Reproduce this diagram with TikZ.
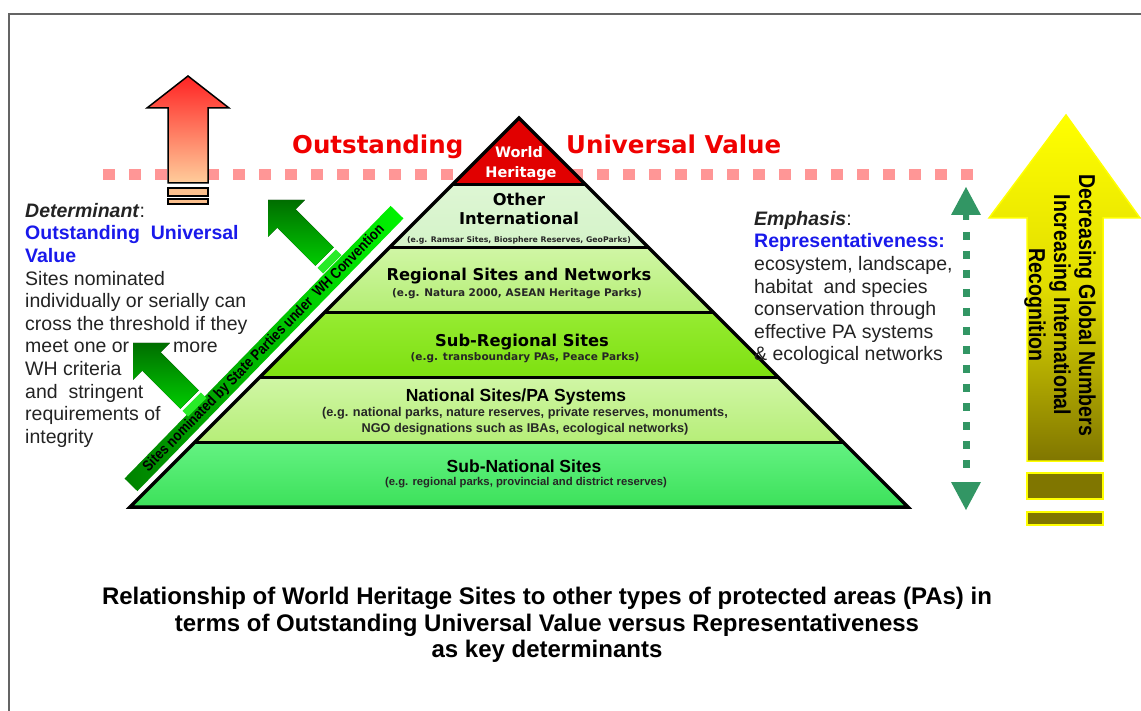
\documentclass[tikz,border=0pt]{standalone}
\usepackage{fontspec}
\setmainfont{Liberation Sans}
\newfontfamily\verdfont{DejaVu Sans}
\newfontfamily\slimfont[FakeStretch=0.85]{Liberation Sans}
\definecolor{framegray}{RGB}{100,100,100}
\definecolor{threshpink}{RGB}{255,150,150}
\definecolor{ouvred}{RGB}{240,0,0}
\definecolor{ouvblue}{RGB}{25,25,235}
\definecolor{bodytext}{RGB}{35,35,35}
\definecolor{whred}{RGB}{225,0,0}
\definecolor{othtop}{RGB}{222,246,212}
\definecolor{othbot}{RGB}{212,243,200}
\definecolor{regtop}{RGB}{208,246,165}
\definecolor{regbot}{RGB}{180,238,115}
\definecolor{srtop}{RGB}{150,235,50}
\definecolor{srbot}{RGB}{125,224,15}
\definecolor{nattop}{RGB}{208,246,165}
\definecolor{natbot}{RGB}{182,238,120}
\definecolor{sntop}{RGB}{100,242,130}
\definecolor{snbot}{RGB}{60,225,90}
\definecolor{uptop}{RGB}{255,35,35}
\definecolor{upbot}{RGB}{255,205,155}
\definecolor{upbar}{RGB}{250,190,140}
\definecolor{nomdark}{RGB}{0,110,0}
\definecolor{nomlight}{RGB}{0,205,0}
\definecolor{nombar}{RGB}{40,235,40}
\definecolor{bannerdark}{RGB}{0,130,0}
\definecolor{bannerlight}{RGB}{0,245,0}
\definecolor{reprgreen}{RGB}{50,150,100}
\definecolor{recogtop}{RGB}{255,255,0}
\definecolor{recogmid}{RGB}{225,220,0}
\definecolor{recogbot}{RGB}{128,118,0}
\tikzset{
  threshold/.style ={threshpink, line width=11pt, dash pattern=on 12pt off 14pt},
  tiertitle/.style ={anchor=base, inner sep=0pt, font=\verdfont\bfseries\fontsize{16.3}{19}\selectfont},
  tiereg/.style    ={anchor=base, inner sep=0pt, text=black!85, font=\verdfont\bfseries\fontsize{10.5}{12}\selectfont},
  lowtitle/.style  ={anchor=base, inner sep=0pt, font=\bfseries\fontsize{17.5}{20}\selectfont},
  loweg/.style     ={anchor=base, inner sep=0pt, text=black!85, font=\bfseries\fontsize{12.7}{15}\selectfont},
  ouv/.style       ={anchor=base west, inner sep=0pt, text=ouvred, font=\verdfont\bfseries\fontsize{24.5}{27}\selectfont},
  sidetext/.style  ={anchor=north west, inner sep=0pt, align=left, text=bodytext, font=\fontsize{19.5}{22.6}\selectfont},
  banner/.style    ={minimum width=381pt, minimum height=18pt, inner sep=0pt, left color=bannerdark, right color=bannerlight,
                     font=\slimfont\bfseries\fontsize{15}{15}\selectfont},
  nomarrow/.style  ={top color=nomdark, bottom color=nomlight},
  recogbar/.style  ={fill=recogbot, draw=recogtop, line width=1.5pt},
  upbars/.style    ={fill=upbar, draw=black, line width=1.3pt}
}

\begin{document}
\begin{tikzpicture}[x=1pt,y=-1pt]
  \useasboundingbox (0,0) rectangle (1141,711);
  \draw[framegray, line width=2.2pt] (9,711) -- (9,14) -- (1141,14);

  \draw[threshold] (103,174.5) -- (976,174.5);

  % tiers of the pyramid, bottom edge y = 507
  \foreach \t/\b/\ct/\cb in {185/248/othtop/othbot, 248/313/regtop/regbot, 313/378/srtop/srbot,
                             378/442/nattop/natbot, 442/507/sntop/snbot}
    \shade[top color=\ct, bottom color=\cb] ({637-\t},\t) -- ({\t+401},\t) -- ({\b+401},\b) -- ({637-\b},\b) -- cycle;
  \fill[whred] (519,118) -- (586,185) -- (452,185) -- cycle;
  \foreach \y in {185,248,313,378,442}
    \draw[line width=3pt] ({637-\y},\y) -- ({\y+401},\y);
  \draw[line width=3.5pt, line join=miter] (519,118) -- (908,507) -- (130,507) -- cycle;

  \node[tiertitle, text=white, font=\verdfont\bfseries\fontsize{14.5}{17}\selectfont] (wh1) at (519,158) {World};
  \node[tiertitle, text=white, font=\verdfont\bfseries\fontsize{14.5}{17}\selectfont] (wh2) at (521,178) {Heritage};
  \node[tiertitle] (oth1) at (519,206) {Other};
  \node[tiertitle] (oth2) at (519,225) {International};
  \node[tiereg, font=\verdfont\bfseries\fontsize{7.75}{9}\selectfont] (oth3) at (519,243) {(e.g. Ramsar Sites, Biosphere Reserves, GeoParks)};
  \node[tiertitle] (reg1) at (519,281) {Regional Sites and Networks};
  \node[tiereg] (reg2) at (517,297) {(e.g. Natura 2000, ASEAN Heritage Parks)};
  \node[tiertitle] (sr1) at (522,346.5) {Sub-Regional Sites};
  \node[tiereg] (sr2) at (525,360) {(e.g. transboundary PAs, Peace Parks)};
  \node[lowtitle] (nat1) at (516,402) {National Sites/PA Systems};
  \node[loweg] (nat2) at (525,417) {(e.g. national parks, nature reserves, private reserves, monuments,};
  \node[loweg] (nat3) at (525,432) {NGO designations such as IBAs, ecological networks)};
  \node[lowtitle] (sn1) at (524,472) {Sub-National Sites};
  \node[loweg, font=\bfseries\fontsize{11.3}{13}\selectfont] (sn2) at (526,485) {(e.g. regional parks, provincial and district reserves)};

  \node[ouv] (ouv1) at (292,154) {Outstanding};
  \node[ouv] (ouv2) at (566,154) {Universal Value};

  % arrow over the threshold
  \draw[line width=1.5pt, top color=uptop, bottom color=upbot]
    (188,76) -- (229,108) -- (208,108) -- (208,183) -- (168,183) -- (168,108) -- (147,108) -- cycle;
  \draw[upbars] (168,188) rectangle (208,196);
  \draw[upbars] (168,199) rectangle (208,204);

  \node[sidetext] (determinant) at (25,203) {\textbf{\textit{Determinant}}:\\
    \textcolor{ouvblue}{\textbf{Outstanding\ \ Universal}}\\
    \textcolor{ouvblue}{\textbf{Value}}\\
    Sites nominated\\
    individually or serially can\\
    cross the threshold if they\\
    meet one or\hspace{44pt}more\\
    WH criteria\\
    and\ \ stringent\\
    requirements of\\
    integrity};

  \node[banner, rotate=45.7] (nominated) at (264,348.5) {Sites nominated by State Parties under\ \ WH Convention};
  \foreach \tx/\ty in {268/200, 133/343} {
    \begin{scope}[shift={(\tx,\ty)}, rotate=45]
      \fill[nomarrow] (0,0) -- (26,26) -- (13,26) -- (13,80) -- (-13,80) -- (-13,26) -- (-26,26) -- cycle;
      \fill[nombar] (-13,83) rectangle (13,91);
    \end{scope}
  }

  \node[sidetext] (emphasis) at (754,211) {\textbf{\textit{Emphasis}}:\\
    \textcolor{ouvblue}{\textbf{Representativeness:}}\\
    ecosystem, landscape,\\
    habitat\ \ and species\\
    conservation through\\
    effective PA systems\\
    \& ecological networks};

  % two-way arrow, dashed shaft
  \fill[reprgreen] (966,187) -- (981,215) -- (969,215) -- (969,220) -- (963,220) -- (963,215) -- (951,215) -- cycle;
  \fill[reprgreen] (966,510) -- (981,482) -- (951,482) -- cycle;
  \draw[reprgreen, line width=7pt, dash pattern=on 8pt off 11pt] (966,232) -- (966,478);

  \draw[recogtop, line width=1.5pt, top color=recogtop, bottom color=recogbot, middle color=recogmid]
    (1066,115) -- (1140,218) -- (1103,218) -- (1103,461) -- (1027,461) -- (1027,218) -- (989,218) -- cycle;
  \draw[recogbar] (1027,473) rectangle (1103,499);
  \draw[recogbar] (1027,512) rectangle (1103,525);
  \node[rotate=-90, align=center, inner sep=0pt, font=\slimfont\bfseries\fontsize{23}{25}\selectfont] (recog) at (1060,305)
    {Decreasing Global Numbers\\ Increasing International\\ Recognition};

  \node[align=center, inner sep=0pt, font=\bfseries\fontsize{24}{26.7}\selectfont] (caption) at (547,625)
    {Relationship of World Heritage Sites to other types of protected areas (PAs) in\\
     terms of Outstanding Universal Value versus Representativeness\\
     as key determinants};
\end{tikzpicture}
\end{document}
